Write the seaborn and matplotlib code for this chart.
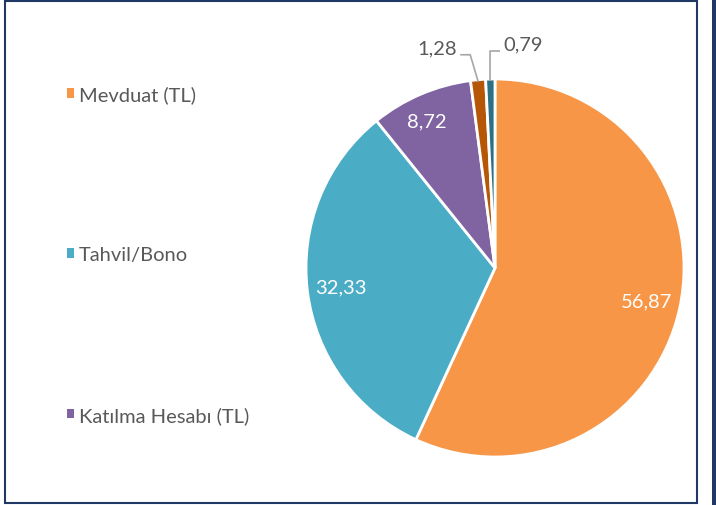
import matplotlib.pyplot as plt
import seaborn as sns
import numpy as np
from matplotlib.patches import Rectangle

# Veri
kategoriler = ['Mevduat (TL)', 'Tahvil/Bono', 'Katılma Hesabı (TL)', 'Diğer 1', 'Diğer 2']
degerler = [56.87, 32.33, 8.72, 1.28, 0.79]
etiketler = ['56,87', '32,33', '8,72', '1,28', '0,79']
renkler = ['#F79646', '#4BACC6', '#8064A2', '#B65708', '#2C7085']

sns.set_theme(style="white")
plt.rcParams['font.family'] = ['Lato', 'DejaVu Sans']

W, H = 716, 506
fig = plt.figure(figsize=(W / 100, H / 100), dpi=100)
ax = fig.add_axes([0, 0, 1, 1])

cx, cy, r = 495, H - 269, 189
wedges, _ = ax.pie(degerler, colors=renkler, startangle=90, counterclock=False,
                   center=(cx, cy), radius=r, frame=True,
                   wedgeprops=dict(edgecolor='white', linewidth=2))
ax.set_xlim(0, W)
ax.set_ylim(0, H)
ax.set_aspect('equal')
ax.axis('off')

# İç etiketler
mesafeler = [0.82, 0.82, 0.86]
for w, lab, d in zip(wedges[:3], etiketler[:3], mesafeler):
    a = np.deg2rad((w.theta1 + w.theta2) / 2) + (0.03 if lab == '8,72' else 0)
    ax.text(cx + d * r * np.cos(a), cy + d * r * np.sin(a), lab, color='white',
            fontsize=14.5, ha='center', va='center')

# Dış etiketler (kılavuz çizgili)
gri = '#a6a6a6'
for w, lab, side in zip(wedges[3:], etiketler[3:], [-1, 1]):
    a = np.deg2rad((w.theta1 + w.theta2) / 2)
    x0, y0 = cx + (r - 2) * np.cos(a), cy + (r - 2) * np.sin(a)
    if side < 0:
        x1, y1 = x0 - 8, y0 + 27
        x2 = x1 - 10
    else:
        x1, y1 = x0, y0 + 30
        x2 = x1 + 10
    ax.plot([x0, x1, x2], [y0, y1, y1], color=gri, lw=1.2, solid_capstyle='butt')
    ax.text(x2 + side * 3, y1 + 7, lab, color='#595959', fontsize=14.5,
            ha='left' if side > 0 else 'right', va='center')

# Lejant
leg = fig.legend(handles=wedges[:3], labels=kategoriler[:3], loc='upper left',
                 bbox_to_anchor=(49 / W, 1 - 68 / H), frameon=False, fontsize=14.5,
                 labelspacing=7.1, handlelength=0.35, handleheight=0.35,
                 handletextpad=0.25, labelcolor='#595959')
for h in leg.legend_handles:
    h.set_edgecolor('none')

# Çerçeve
fig.patches.append(Rectangle((5 / W, 2 / H), 692 / W, 502 / H, transform=fig.transFigure,
                             fill=False, edgecolor='#1F3864', linewidth=1.5))
fig.patches.append(Rectangle((712 / W, 0), 4 / W, 1, transform=fig.transFigure,
                             facecolor='#1F3864', edgecolor='none'))

fig.savefig('out.png', dpi=100)
